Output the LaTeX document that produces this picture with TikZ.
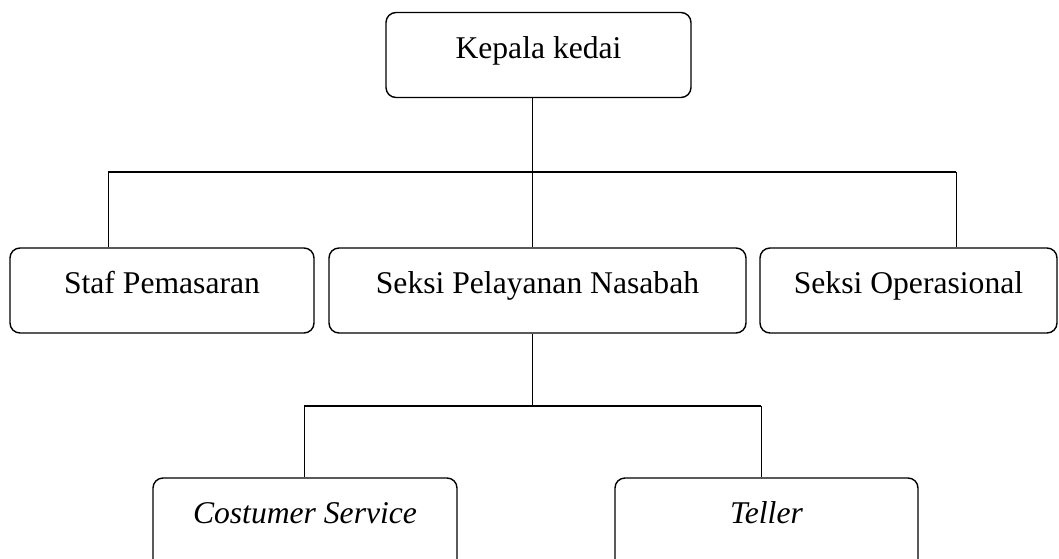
\documentclass[tikz,border=0pt]{standalone}
\usepackage{fontspec}
\setmainfont{Liberation Serif}
\usepackage{tikz}
\usetikzlibrary{positioning}

\tikzset{
  unit/.style={draw,rounded corners=0.2cm,line width=0.8pt,minimum height=1.7cm,
    text depth=0.31cm,inner sep=0pt,font=\fontsize{18}{22}\selectfont},
  lowunit/.style={unit,minimum height=1.9cm,text depth=0.51cm,
    font=\fontsize{18}{22}\selectfont\itshape},
  link/.style={line width=0.55pt},
  bus/.style={line width=1.1pt}
}

\begin{document}
\begin{tikzpicture}
   \useasboundingbox (0,0) rectangle (21.18,-11.16);

   \node[unit,minimum width=6.1cm] (kepala) at (10.77,-1.1) {Kepala kedai};

   \node[unit,minimum width=6.08cm] (staf) at (3.24,-5.81) {Staf Pemasaran};
   \node[unit,minimum width=8.34cm] (pelayanan) at (10.75,-5.81) {Seksi Pelayanan Nasabah};
   \node[unit,minimum width=5.94cm] (operasional) at (18.17,-5.81) {Seksi Operasional};

   \node[lowunit,minimum width=6.08cm] (cs) at (6.1,-10.51) {Costumer Service};
   \node[lowunit,minimum width=6.06cm] (teller) at (15.33,-10.51) {Teller};

   % first level
   \coordinate (b1) at (10.64,-3.44);
   \coordinate (l1) at (2.16,-3.44);
   \coordinate (r1) at (19.12,-3.44);
   \draw[link] (b1 |- kepala.south) -- (b1);
   \draw[bus] (l1) -- (r1);
   \draw[link] (l1) -- (l1 |- staf.north);
   \draw[link] (b1) -- (b1 |- pelayanan.north);
   \draw[link] (r1) -- (r1 |- operasional.north);

   % second level
   \coordinate (b2) at (10.64,-8.12);
   \coordinate (l2) at (6.08,-8.12);
   \coordinate (r2) at (15.22,-8.12);
   \draw[link] (b2 |- pelayanan.south) -- (b2);
   \draw[bus] (l2) -- (r2);
   \draw[link] (l2) -- (l2 |- cs.north);
   \draw[link] (r2) -- (r2 |- teller.north);
\end{tikzpicture}
\end{document}
